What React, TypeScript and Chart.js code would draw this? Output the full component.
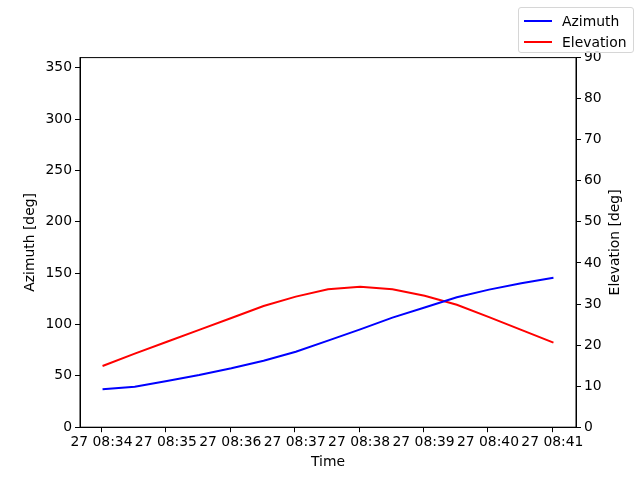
import { useEffect, useRef } from 'react';
import { Chart, registerables } from 'chart.js';

Chart.register(...registerables);

// seconds after 08:34:00 on the 27th, one sample every 30 s
const sampleSeconds = [1, 31, 61, 91, 121, 151, 181, 211, 241, 271, 301, 331, 361, 391, 421];
const azimuth = [36.9, 39.5, 45.0, 50.8, 57.4, 64.8, 73.5, 84.3, 95.3, 106.7, 116.6, 126.5, 134.0, 140.2, 145.6];
const elevation = [14.9, 17.9, 20.8, 23.7, 26.6, 29.5, 31.8, 33.6, 34.2, 33.6, 32.0, 29.8, 26.8, 23.7, 20.6];

const timeTicks = [0, 60, 120, 180, 240, 300, 360, 420];
const timeTickLabels = ['27 08:34', '27 08:35', '27 08:36', '27 08:37', '27 08:38', '27 08:39', '27 08:40', '27 08:41'];
const azimuthTicks = [0, 50, 100, 150, 200, 250, 300, 350];
const elevationTicks = [0, 10, 20, 30, 40, 50, 60, 70, 80, 90];

const FONT = 'DejaVu Sans';
const FS = 13.9;

// frame around the plot area and the right-hand axis title, read bottom to top
const framePlugin = {
  id: 'frame',
  afterDraw(chart: Chart) {
    const { ctx, chartArea } = chart;
    ctx.save();
    ctx.strokeStyle = '#000';
    ctx.lineWidth = 1;
    ctx.strokeRect(chartArea.left, chartArea.top, chartArea.right - chartArea.left, chartArea.bottom - chartArea.top);

    ctx.translate(615, (chartArea.top + chartArea.bottom) / 2);
    ctx.rotate(-Math.PI / 2);
    ctx.fillStyle = '#000';
    ctx.font = `${FS}px "${FONT}"`;
    ctx.textAlign = 'center';
    ctx.textBaseline = 'middle';
    ctx.fillText('Elevation [deg]', 0, 0);
    ctx.restore();
  },
};

export default function App() {
  const canvasRef = useRef<HTMLCanvasElement>(null);

  useEffect(() => {
    document.body.style.margin = '0';
    if (!canvasRef.current) return;

    const tickStyle = { color: '#000', font: { family: FONT, size: FS } };
    const gridStyle = { drawOnChartArea: false, drawTicks: true, tickLength: 5, color: '#000' };

    const chart = new Chart(canvasRef.current, {
      type: 'line',
      data: {
        datasets: [
          {
            label: 'Azimuth',
            data: sampleSeconds.map((s, i) => ({ x: s, y: azimuth[i] })),
            borderColor: 'blue',
            borderWidth: 2,
            pointRadius: 0,
            yAxisID: 'y',
          },
          {
            label: 'Elevation',
            data: sampleSeconds.map((s, i) => ({ x: s, y: elevation[i] })),
            borderColor: 'red',
            borderWidth: 2,
            pointRadius: 0,
            yAxisID: 'y2',
          },
        ],
      },
      options: {
        animation: false,
        responsive: false,
        layout: { padding: { top: 57.6, left: 0, right: 0, bottom: 0 } },
        plugins: { legend: { display: false }, tooltip: { enabled: false } },
        scales: {
          x: {
            type: 'linear',
            min: -20,
            max: 442,
            afterBuildTicks: (axis: any) => {
              axis.ticks = timeTicks.map((v) => ({ value: v }));
            },
            afterFit: (s: any) => {
              s.height = 52.8;
            },
            ticks: {
              ...tickStyle,
              maxRotation: 0,
              autoSkip: false,
              padding: 2,
              callback: (v: any) => {
                const i = timeTicks.indexOf(Number(v));
                return i >= 0 ? timeTickLabels[i] : '';
              },
            },
            grid: gridStyle,
            border: { color: '#000' },
            title: { display: true, text: 'Time', color: '#000', font: { family: FONT, size: FS }, padding: { top: 0, bottom: 9.5 } },
          },
          y: {
            position: 'left',
            min: 0,
            max: 360,
            afterBuildTicks: (axis: any) => {
              axis.ticks = azimuthTicks.map((v) => ({ value: v }));
            },
            afterFit: (s: any) => {
              s.width = 80;
            },
            ticks: { ...tickStyle, padding: 3 },
            grid: gridStyle,
            border: { color: '#000' },
            title: { display: true, text: 'Azimuth [deg]', color: '#000', font: { family: FONT, size: FS }, padding: { top: 22, bottom: 0 } },
          },
          y2: {
            position: 'right',
            min: 0,
            max: 90,
            afterBuildTicks: (axis: any) => {
              axis.ticks = elevationTicks.map((v) => ({ value: v }));
            },
            afterFit: (s: any) => {
              s.width = 64;
            },
            ticks: { ...tickStyle, padding: 3 },
            grid: gridStyle,
            border: { color: '#000' },
          },
        },
      },
      plugins: [framePlugin],
    });

    return () => chart.destroy();
  }, []);

  const legendRow = (color: string, label: string) => (
    <div style={{ display: 'flex', alignItems: 'center', height: 21 }}>
      <span style={{ display: 'inline-block', width: 28, height: 2, background: color, marginRight: 10 }} />
      <span>{label}</span>
    </div>
  );

  return (
    <div style={{ position: 'relative', width: 640, height: 480, background: '#fff' }}>
      <canvas ref={canvasRef} width={640} height={480} />
      <div
        style={{
          position: 'absolute',
          left: 518,
          top: 7,
          width: 116,
          height: 46,
          boxSizing: 'border-box',
          border: '1px solid #d6d6d6',
          borderRadius: 3,
          background: 'rgba(255,255,255,0.8)',
          padding: '2px 0 0 5px',
          fontFamily: FONT,
          fontSize: FS,
          color: '#000',
        }}
      >
        {legendRow('blue', 'Azimuth')}
        {legendRow('red', 'Elevation')}
      </div>
    </div>
  );
}
